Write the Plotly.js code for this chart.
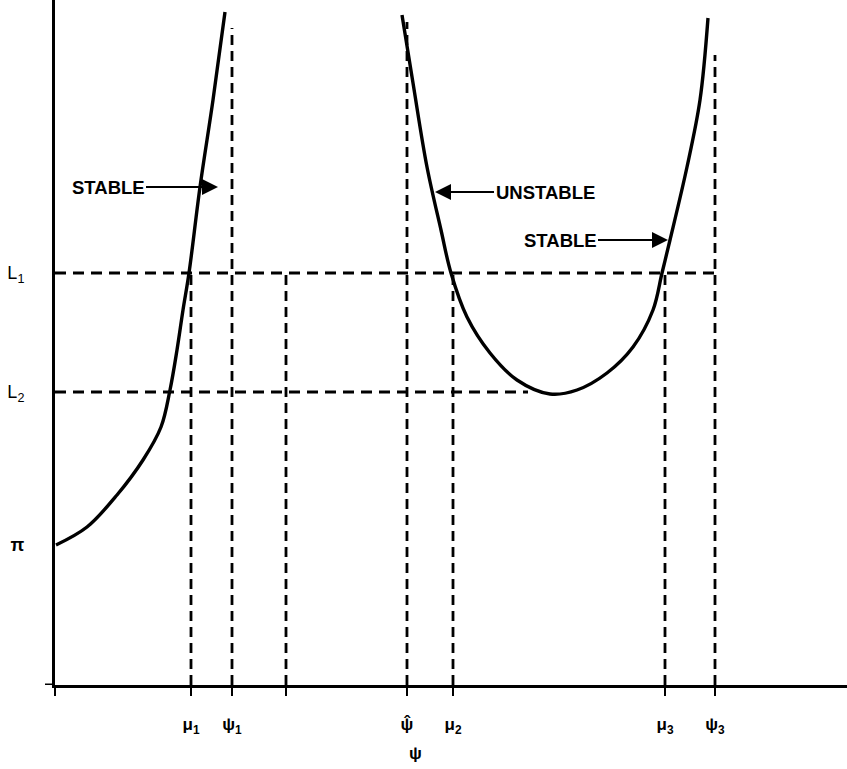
<!DOCTYPE html>
<html>
<head>
<meta charset="utf-8">
<script src="https://cdn.plot.ly/plotly-3.0.1.min.js"></script>
<style>html,body{margin:0;padding:0;background:#fff;}#chart{width:847px;height:769px;}</style>
</head>
<body>
<div id="chart"></div>
<script>
// ---- levels (y) ----
const PI_LEVEL = 14.0;
const L1 = 41.2;
const L2 = 29.3;

// ---- key points on the psi axis (x) ----
const MU1 = 13.6, PSI1 = 17.7, MID = 23.1, PSIHAT = 35.2, MU2 = 39.8, MU3 = 61.0, PSI3 = 66.0;

// ---- left curve ----
const curve1X = [0.1, 3.2, 6.2, 8.8, 10.6, 11.5, 12.2, 12.8, 13.4, 14.5, 15.8, 17.0];
const curve1Y = [14.0, 15.8, 19.0, 22.5, 25.8, 29.5, 33.5, 37.5, 41.2, 49.8, 58.5, 67.3];

// ---- U-shaped curve ----
const curve2X = [34.7, 35.8, 37.2, 38.6, 39.6, 41.2, 43.5, 46.2, 49.5, 52.2, 55.2, 57.8, 59.8, 60.7, 61.5, 63.2, 64.5, 65.3];
const curve2Y = [67.0, 60.2, 51.8, 45.5, 41.2, 36.8, 33.2, 30.5, 29.1, 29.5, 31.2, 33.8, 37.5, 41.2, 44.5, 51.8, 58.5, 66.7];

// ---- vertical dashed guides ----
const vGuideX   = [MU1, PSI1, MID, PSIHAT, MU2, MU3, PSI3];
const vGuideTop = [L1, 65.7, L1, 66.3, L1, L1, 63.0];

// ---- horizontal dashed guides ----
const hGuideY   = [L1, L2];
const hGuideEnd = [PSI3, 47.3];

// ---- tick labels ----
const xTickVals = [0, MU1, PSI1, MID, PSIHAT, MU2, MU3, PSI3];
const xTickText = ['', 'μ<sub>1</sub>', 'ψ<sub>1</sub>', '', 'ψ', 'μ<sub>2</sub>', 'μ<sub>3</sub>', 'ψ<sub>3</sub>'];
const yTickVals = [PI_LEVEL, L2, L1];
const yTickText = ['<b>π</b>', 'L<sub>2</sub>', 'L<sub>1</sub>'];

// ---- stability labels ----
const labelText = ['STABLE', 'UNSTABLE', 'STABLE'];
const labelTipX = [16.3, 38.0, 61.3];
const labelTipY = [49.8, 49.3, 44.5];
const labelOffset = [-110, 110, -108];

const FONT = 'Liberation Sans, Arial, sans-serif';
const dash = '10px,6px';
const traces = [];
vGuideX.forEach((x, i) => {
  traces.push({x: [x, x], y: [0, vGuideTop[i]], mode: 'lines', line: {color: '#000', width: 2.8, dash: dash}, hoverinfo: 'skip'});
});
hGuideY.forEach((y, i) => {
  traces.push({x: [0, hGuideEnd[i]], y: [y, y], mode: 'lines', line: {color: '#000', width: 2.8, dash: '11px,7px'}, hoverinfo: 'skip'});
});
traces.push({x: curve1X, y: curve1Y, mode: 'lines', line: {color: '#000', width: 3.4, shape: 'spline', smoothing: 1}});
traces.push({x: curve2X, y: curve2Y, mode: 'lines', line: {color: '#000', width: 3.4, shape: 'spline', smoothing: 1}});

const annotations = labelText.map((t, i) => ({
  x: labelTipX[i], y: labelTipY[i], xref: 'x', yref: 'y',
  text: t, showarrow: true, ax: labelOffset[i], ay: 0,
  arrowhead: 2, arrowsize: 1.6, arrowwidth: 2, arrowcolor: '#000',
  font: {family: FONT, size: 18.5, color: '#000', weight: 'bold'}
}));
// hat over psi-hat tick label
annotations.push({
  x: PSIHAT, y: -0.056, xref: 'x', yref: 'paper', text: '<b>ˆ</b>', showarrow: false,
  yanchor: 'middle', font: {family: FONT, size: 18, color: '#000'}
});
// axis title
annotations.push({
  x: 36.0, y: -0.1, xref: 'x', yref: 'paper', text: 'ψ', showarrow: false,
  yanchor: 'middle', font: {family: FONT, size: 17, color: '#000', weight: 'bold'}
});

const layout = {
  width: 847, height: 769,
  margin: {l: 55, r: 0, t: 0, b: 84, pad: 0},
  paper_bgcolor: '#fff', plot_bgcolor: '#fff',
  showlegend: false,
  xaxis: {
    range: [0, 79.2], showgrid: false, zeroline: false,
    showline: true, linecolor: '#000', linewidth: 3,
    ticks: 'outside', ticklen: 8, tickwidth: 2, tickcolor: '#000',
    tickvals: xTickVals, ticktext: xTickText, ticklabelstandoff: 14,
    tickfont: {family: FONT, size: 17, color: '#000', weight: 'bold'},
    fixedrange: true
  },
  yaxis: {
    range: [0, 68.5], showgrid: false, zeroline: false,
    showline: true, linecolor: '#000', linewidth: 3,
    ticks: '', tickvals: yTickVals, ticktext: yTickText, ticklabelstandoff: 24,
    tickfont: {family: FONT, size: 18, color: '#000'},
    fixedrange: true
  },
  shapes: [
    {type: 'line', xref: 'paper', yref: 'y', x0: -10/792, x1: 0, y0: 0, y1: 0, line: {color: '#000', width: 3}}
  ],
  annotations: annotations
};

Plotly.newPlot('chart', traces, layout, {displayModeBar: false, staticPlot: true});
</script>
</body>
</html>
